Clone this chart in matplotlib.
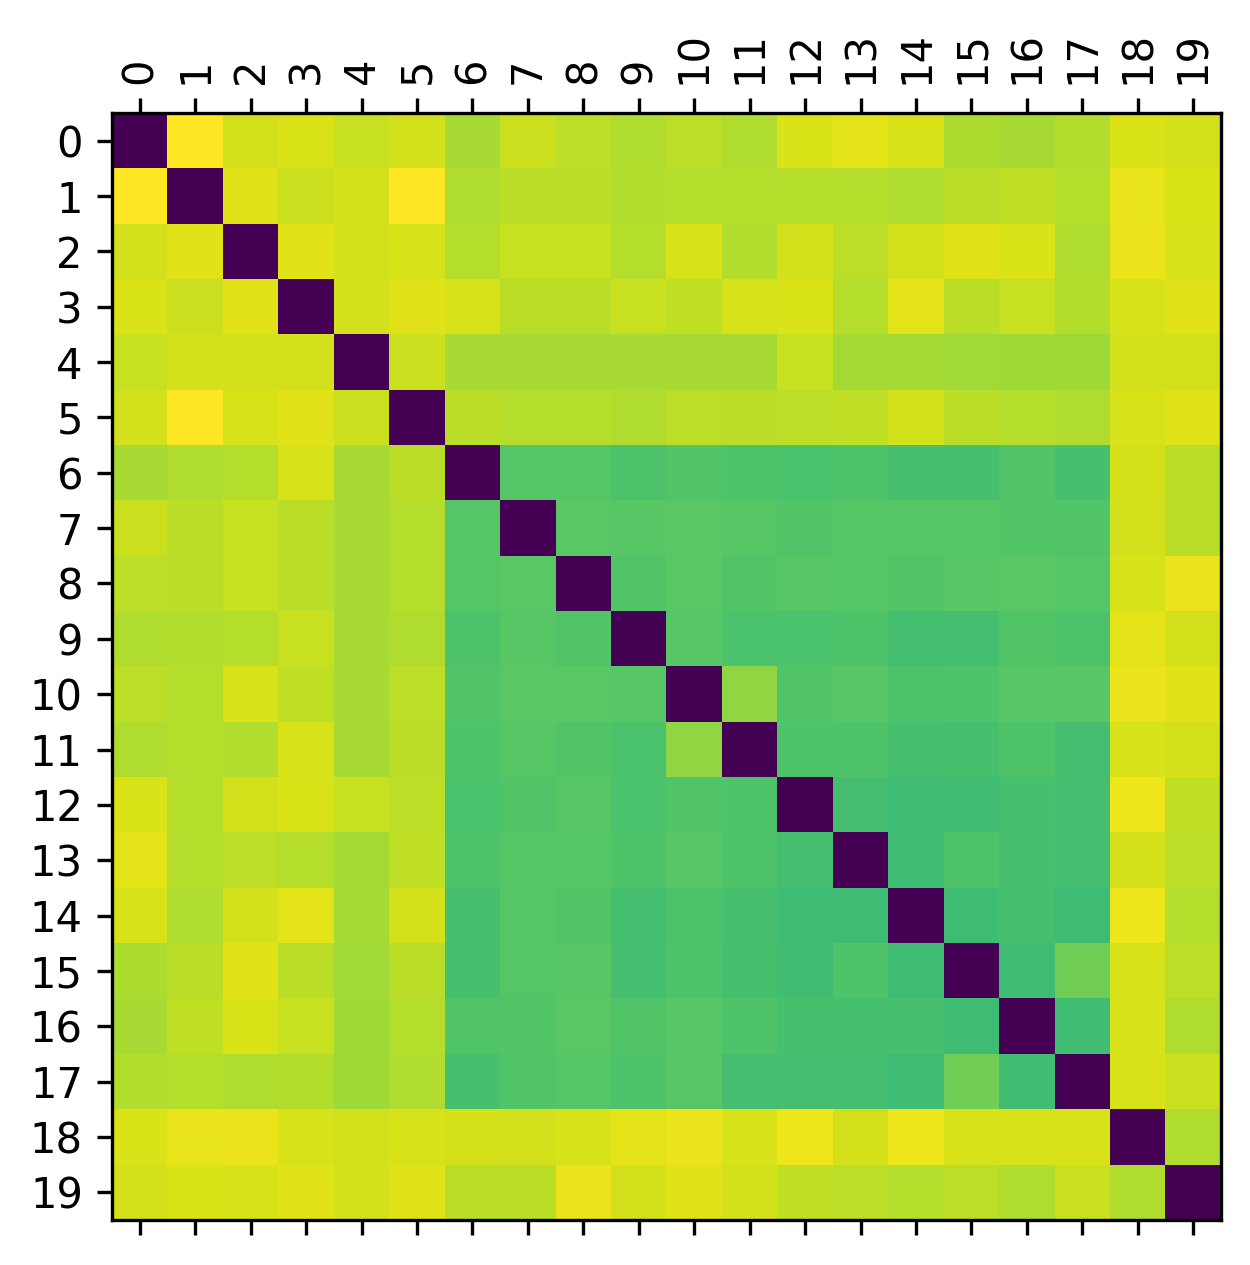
import numpy as np
import matplotlib
matplotlib.use('Agg')
import matplotlib.pyplot as plt


# -----------------------------------------------------------------------------
# data: upper triangle of a symmetric distance matrix (row i holds j > i)
# -----------------------------------------------------------------------------
labels = [str(i) for i in range(20)]

upper = [
    [1.0, 0.93, 0.945, 0.915, 0.93, 0.87, 0.92, 0.90, 0.88, 0.90, 0.88, 0.945, 0.96, 0.94, 0.875, 0.87, 0.885, 0.945, 0.935],
    [0.955, 0.92, 0.935, 1.0, 0.88, 0.895, 0.895, 0.885, 0.89, 0.89, 0.89, 0.89, 0.88, 0.895, 0.905, 0.89, 0.965, 0.945],
    [0.955, 0.93, 0.94, 0.89, 0.915, 0.915, 0.89, 0.94, 0.885, 0.93, 0.90, 0.93, 0.955, 0.945, 0.88, 0.97, 0.94],
    [0.93, 0.955, 0.94, 0.895, 0.895, 0.915, 0.905, 0.94, 0.945, 0.89, 0.96, 0.895, 0.915, 0.885, 0.94, 0.95],
    [0.92, 0.87, 0.87, 0.87, 0.87, 0.87, 0.87, 0.915, 0.865, 0.865, 0.86, 0.858, 0.858, 0.93, 0.93],
    [0.895, 0.89, 0.89, 0.88, 0.90, 0.895, 0.90, 0.905, 0.93, 0.895, 0.89, 0.88, 0.94, 0.95],
    [0.735, 0.735, 0.72, 0.73, 0.725, 0.715, 0.725, 0.71, 0.71, 0.73, 0.71, 0.935, 0.895],
    [0.745, 0.74, 0.745, 0.74, 0.73, 0.735, 0.735, 0.735, 0.73, 0.73, 0.93, 0.895],
    [0.73, 0.745, 0.73, 0.74, 0.735, 0.73, 0.74, 0.745, 0.735, 0.94, 0.97],
    [0.74, 0.715, 0.715, 0.725, 0.705, 0.705, 0.73, 0.72, 0.96, 0.93],
    [0.835, 0.73, 0.74, 0.72, 0.725, 0.74, 0.74, 0.97, 0.955],
    [0.725, 0.725, 0.71, 0.71, 0.725, 0.705, 0.94, 0.93],
    [0.705, 0.69, 0.695, 0.71, 0.705, 0.975, 0.905],
    [0.69, 0.725, 0.71, 0.705, 0.935, 0.90],
    [0.69, 0.71, 0.69, 0.975, 0.89],
    [0.69, 0.785, 0.94, 0.90],
    [0.695, 0.94, 0.88],
    [0.94, 0.92],
    [0.88],
]

# build the full matrix
n = len(labels)
dist = np.zeros((n, n))
for i, row in enumerate(upper):
    dist[i, i + 1:] = row
dist = dist + dist.T


# -----------------------------------------------------------------------------
# plot
# -----------------------------------------------------------------------------
fig = plt.figure(figsize=(1250 / 300, 1265 / 300), dpi=300)
ax = fig.add_axes([112 / 1250, 1 - 1220 / 1265, 1109 / 1250, 1107 / 1265])
ax.matshow(dist, cmap='viridis', aspect='auto')

ax.set_xticks(range(n))
ax.set_yticks(range(n))
ax.set_xticklabels(labels, rotation=90)
ax.set_yticklabels(labels)

fig.savefig('out.png', dpi=300)
